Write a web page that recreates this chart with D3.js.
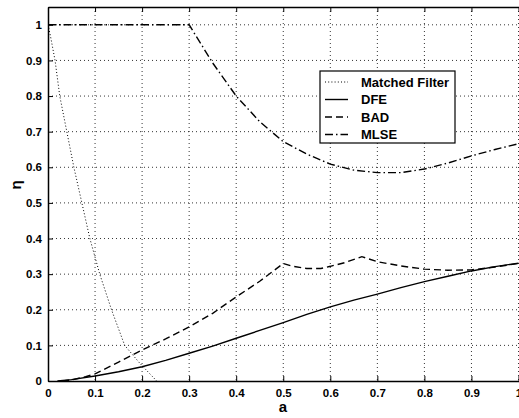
<!DOCTYPE html>
<html>
<head>
<meta charset="utf-8">
<script src="https://cdn.jsdelivr.net/npm/d3@7"></script>
<style>
  body { margin: 0; background: #fff; }
  svg { display: block; }
  text { font-family: "Liberation Sans", Arial, sans-serif; }
</style>
</head>
<body>
<script>
// series
const mfA   = [0, 0.005, 0.015, 0.025, 0.04, 0.055, 0.072, 0.089, 0.11, 0.135, 0.163, 0.195, 0.231];
const mfEta = [1, 0.97, 0.9, 0.8, 0.7, 0.6, 0.5, 0.4, 0.3, 0.2, 0.1, 0.05, 0];

const dfeA   = [0.02, 0.05, 0.1, 0.15, 0.2, 0.25, 0.3, 0.35, 0.4, 0.45, 0.5, 0.55, 0.6, 0.65, 0.7, 0.75, 0.8, 0.85, 0.9, 0.95, 1.0];
const dfeEta = [0, 0.004, 0.014, 0.026, 0.04, 0.058, 0.078, 0.098, 0.12, 0.142, 0.164, 0.187, 0.208, 0.227, 0.244, 0.262, 0.279, 0.294, 0.309, 0.321, 0.331];

const badA   = [0.03, 0.05, 0.08, 0.1, 0.15, 0.2, 0.25, 0.3, 0.35, 0.4, 0.45, 0.5, 0.52, 0.55, 0.58, 0.6, 0.63, 0.667, 0.7, 0.75, 0.8, 0.85, 0.9, 0.95, 1.0];
const badEta = [0, 0.003, 0.012, 0.02, 0.053, 0.087, 0.118, 0.152, 0.19, 0.236, 0.28, 0.33, 0.322, 0.316, 0.316, 0.322, 0.332, 0.349, 0.335, 0.323, 0.314, 0.311, 0.312, 0.32, 0.33];

const mlseA   = [0, 0.1, 0.2, 0.3, 0.35, 0.4, 0.45, 0.5, 0.55, 0.6, 0.65, 0.7, 0.75, 0.8, 0.85, 0.9, 0.95, 1.0];
const mlseEta = [1, 1, 1, 1, 0.893, 0.8, 0.728, 0.672, 0.637, 0.609, 0.592, 0.585, 0.585, 0.595, 0.612, 0.632, 0.65, 0.666];

const xTicks = [0, 0.1, 0.2, 0.3, 0.4, 0.5, 0.6, 0.7, 0.8, 0.9, 1];
const yTicks = [0, 0.1, 0.2, 0.3, 0.4, 0.5, 0.6, 0.7, 0.8, 0.9, 1];
const legendNames = ['Matched Filter', 'DFE', 'BAD', 'MLSE'];

const W = 519, H = 418;
const plot = {left: 48, right: 518.5, top: 7, bottom: 381};

const x = d3.scaleLinear().domain([0, 1]).range([plot.left, plot.right]);
const y = d3.scaleLinear().domain([0, 1.05]).range([plot.bottom, plot.top]);

const svg = d3.select('body').append('svg')
    .attr('width', W)
    .attr('height', H);

// dotted grid
const grid = svg.append('g').attr('stroke', '#000').attr('stroke-width', 0.8)
    .attr('stroke-dasharray', '1,3');
grid.selectAll('.gx').data(xTicks.slice(1)).enter().append('line')
    .attr('x1', d => x(d)).attr('x2', d => x(d))
    .attr('y1', plot.top).attr('y2', plot.bottom);
grid.selectAll('.gy').data(yTicks.slice(1)).enter().append('line')
    .attr('x1', plot.left).attr('x2', plot.right)
    .attr('y1', d => y(d)).attr('y2', d => y(d));

// axes
const fmt = d => d === 1 ? '1' : d3.format('')(d);
const xAxis = d3.axisBottom(x).tickValues(xTicks).tickSizeInner(-5).tickSizeOuter(0)
    .tickPadding(8).tickFormat(fmt);
const yAxis = d3.axisLeft(y).tickValues(yTicks).tickSizeInner(-5).tickSizeOuter(0)
    .tickPadding(6).tickFormat(fmt);

const gx = svg.append('g').attr('transform', `translate(0,${plot.bottom})`).call(xAxis);
const gy = svg.append('g').attr('transform', `translate(${plot.left},0)`).call(yAxis);
const gt = svg.append('g').attr('transform', `translate(0,${plot.top})`)
    .call(d3.axisTop(x).tickValues(xTicks).tickSizeInner(-5).tickSizeOuter(0).tickFormat(''));

[gx, gy, gt].forEach(g => {
    g.select('.domain').attr('stroke', '#000').attr('stroke-width', 1.5);
    g.selectAll('.tick line').attr('stroke', '#000').attr('stroke-width', 1);
    g.selectAll('.tick text').attr('fill', '#000').attr('font-size', 11.5)
        .attr('font-weight', 'bold').attr('font-family', '"Liberation Sans", Arial, sans-serif');
});

// axis labels
svg.append('text').attr('x', 283).attr('y', 412).attr('text-anchor', 'middle')
    .attr('font-size', 15).attr('font-weight', 'bold').text('a');
svg.append('text').attr('transform', 'translate(21,185) rotate(-90)')
    .attr('text-anchor', 'middle').attr('font-size', 15).attr('font-weight', 'bold').text('η');

// curves
const line = d3.line().x(d => x(d[0])).y(d => y(d[1]));
const series = [
    {a: mfA, eta: mfEta, dash: '1,2.2', w: 1},
    {a: dfeA, eta: dfeEta, dash: null, w: 1.4},
    {a: badA, eta: badEta, dash: '7,4', w: 1.4},
    {a: mlseA, eta: mlseEta, dash: '8,3,1.5,3', w: 1.4}
];
svg.append('clipPath').attr('id', 'clip').append('rect')
    .attr('x', plot.left).attr('y', plot.top)
    .attr('width', plot.right - plot.left + 1).attr('height', plot.bottom - plot.top);
series.forEach(s => {
    svg.append('path')
        .attr('clip-path', 'url(#clip)')
        .attr('d', line(d3.zip(s.a, s.eta)))
        .attr('fill', 'none')
        .attr('stroke', '#000')
        .attr('stroke-width', s.w)
        .attr('stroke-dasharray', s.dash);
});

// legend
const lg = svg.append('g').attr('transform', 'translate(320,71)');
lg.append('rect').attr('width', 135).attr('height', 72)
    .attr('fill', '#fff').attr('stroke', '#000').attr('stroke-width', 1.2);
legendNames.forEach((name, i) => {
    const yy = 11 + i * 17.5;
    lg.append('line').attr('x1', 5).attr('x2', 28).attr('y1', yy).attr('y2', yy)
        .attr('stroke', '#000').attr('stroke-width', series[i].w)
        .attr('stroke-dasharray', series[i].dash);
    lg.append('text').attr('x', 41).attr('y', yy + 4.5)
        .attr('font-size', 13).attr('font-weight', 'bold').text(name);
});
</script>
</body>
</html>
